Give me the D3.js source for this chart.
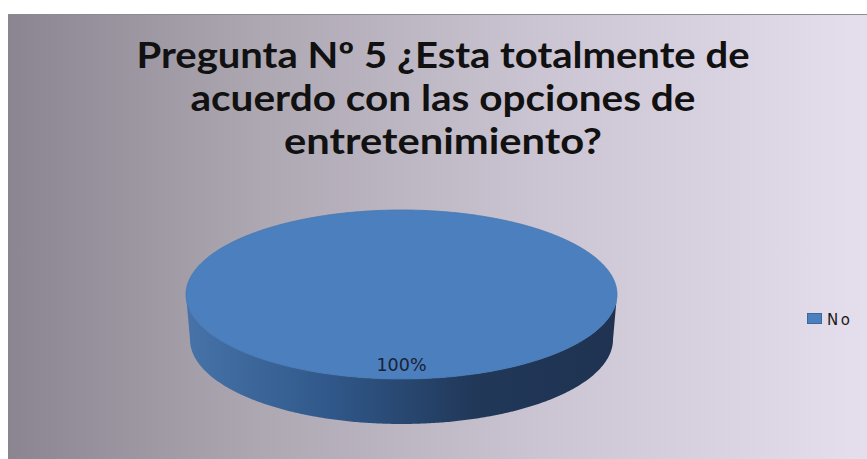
<!DOCTYPE html>
<html>
<head>
<meta charset="utf-8">
<script src="https://cdn.jsdelivr.net/npm/d3@7"></script>
<style>
  html, body { margin: 0; padding: 0; background: #ffffff; }
  svg { display: block; }
</style>
</head>
<body>
<svg id="chart" width="867" height="459"></svg>
<script>
// Survey answers: one category taking the whole pie
const categories = ["No"];
const values = [100];
const titleLines = [
  "Pregunta Nº 5 ¿Esta totalmente de",
  "acuerdo con las opciones de",
  "entretenimiento?"
];

const W = 867, H = 459;
const svg = d3.select("#chart");
const defs = svg.append("defs");

// Chart-area background: grey to lavender, left to right
const bg = defs.append("linearGradient").attr("id", "bgGrad")
  .attr("x1", "0%").attr("x2", "100%").attr("y1", "0%").attr("y2", "0%");
[["0%", "#8a8590"], ["30%", "#aea8b3"], ["62%", "#cbc4d2"], ["100%", "#e4deed"]]
  .forEach(([o, c]) => bg.append("stop").attr("offset", o).attr("stop-color", c));

svg.append("rect")
  .attr("x", 8).attr("y", 14).attr("width", W - 8).attr("height", H - 14)
  .attr("fill", "url(#bgGrad)");
svg.append("line")
  .attr("x1", 8).attr("x2", W).attr("y1", 14.5).attr("y2", 14.5)
  .attr("stroke", "#8e8a94").attr("stroke-width", 1);

// Title
const title = svg.append("text")
  .attr("text-anchor", "middle")
  .attr("font-family", "Lato, 'Open Sans', sans-serif")
  .attr("font-weight", 700)
  .attr("font-size", 36)
  .attr("fill", "#111111");
const titleWidths = [613, 505, 318];
titleLines.forEach((t, i) => {
  title.append("tspan")
    .attr("x", 443).attr("y", 68 + i * 43)
    .attr("textLength", titleWidths[i])
    .attr("lengthAdjust", "spacingAndGlyphs")
    .text(t);
});

// 3D pie geometry
const cx = 401.5, cy = 294.5, rx = 215.5, ry = 84.5;
const depth = 45, rxBottom = 211.5, ryBottom = 84.5;
const colors = d3.scaleOrdinal().domain(categories).range(["#4b7fbd"]);
const sideColors = d3.scaleOrdinal().domain(categories).range([["#4773a9", "#30588a", "#213859", "#1f3251"]]);

const pie = d3.pie().sort(null).value(d => d.value);
const data = categories.map((c, i) => ({ name: c, value: values[i] }));
const arcs = pie(data);
const total = d3.sum(values);

const pt = (a, dx, dy, ox, oy) => [ox + dx * Math.sin(a), oy - dy * Math.cos(a)];

function arcPoints(a0, a1, dx, dy, ox, oy) {
  const n = Math.max(2, Math.ceil(Math.abs(a1 - a0) / 0.01));
  return d3.range(n + 1).map(k => pt(a0 + (a1 - a0) * k / n, dx, dy, ox, oy));
}
const line = d3.line();

// Side gradients per slice
arcs.forEach((d, i) => {
  const g = defs.append("linearGradient").attr("id", "side" + i)
    .attr("gradientUnits", "userSpaceOnUse")
    .attr("x1", cx - rx).attr("x2", cx + rx).attr("y1", 0).attr("y2", 0);
  const cs = sideColors(d.data.name);
  cs.forEach((c, k) => g.append("stop").attr("offset", k / (cs.length - 1)).attr("stop-color", c));
});

const pieG = svg.append("g");

// Outer walls: only the front half (angles between π/2 and 3π/2) is visible
arcs.forEach((d, i) => {
  const s = Math.max(d.startAngle, Math.PI / 2);
  const e = Math.min(d.endAngle, 3 * Math.PI / 2);
  if (e <= s) return;
  const top = arcPoints(s, e, rx, ry, cx, cy);
  const bot = arcPoints(e, s, rxBottom, ryBottom, cx, cy + depth);
  pieG.append("path")
    .attr("d", line(top.concat(bot)) + "Z")
    .attr("fill", `url(#side${i})`);
});

// Top faces
arcs.forEach((d, i) => {
  const pts = arcPoints(d.startAngle, d.endAngle, rx, ry, cx, cy);
  const full = d.endAngle - d.startAngle >= 2 * Math.PI - 1e-9;
  pieG.append("path")
    .attr("d", full ? line(pts) + "Z" : line([[cx, cy]].concat(pts)) + "Z")
    .attr("fill", colors(d.data.name))
    .attr("stroke", "#4577b2").attr("stroke-width", 0.8);
});

// Percentage labels
const pct = d3.format(".0%");
arcs.forEach(d => {
  const mid = (d.startAngle + d.endAngle) / 2;
  const [lx, ly] = pt(mid, rx * 0.83, ry * 0.83, cx, cy);
  pieG.append("text")
    .attr("x", lx).attr("y", ly)
    .attr("text-anchor", "middle")
    .attr("dominant-baseline", "central")
    .attr("font-family", "'DejaVu Sans', Verdana, sans-serif")
    .attr("font-size", 17.5)
    .attr("fill", "#1a2136")
    .text(pct(d.value / total));
});

// Legend
const legend = svg.append("g").attr("transform", "translate(807,313)");
categories.forEach((c, i) => {
  const row = legend.append("g").attr("transform", `translate(0,${i * 20})`);
  row.append("rect").attr("x", 0.5).attr("y", 0.5).attr("width", 14).attr("height", 10)
    .attr("fill", colors(c)).attr("stroke", "#3a679c").attr("stroke-width", 1);
  row.append("text")
    .attr("x", 20).attr("y", 11.5)
    .attr("font-family", "'DejaVu Sans', Verdana, sans-serif")
    .attr("font-size", 15)
    .attr("letter-spacing", 2.5)
    .attr("fill", "#1a1a1a")
    .text(c);
});
</script>
</body>
</html>
